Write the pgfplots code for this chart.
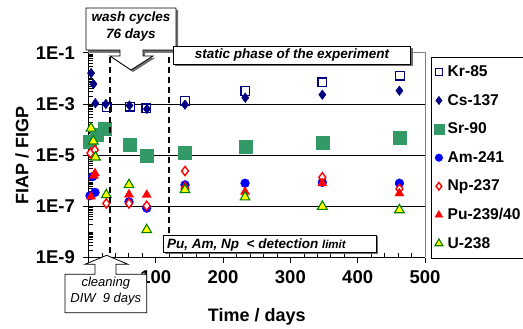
\documentclass[border=0pt]{standalone}
\usepackage{pgfplots}
\pgfplotsset{compat=1.18}
\usepackage{fontspec}
\setmainfont{Liberation Sans}

\definecolor{navyblue}{RGB}{0,0,128}
\definecolor{srgreen}{RGB}{51,153,102}
\definecolor{amblue}{RGB}{0,0,255}
\definecolor{nured}{RGB}{255,0,0}
\definecolor{uyellow}{RGB}{255,255,0}
\definecolor{ugreen}{RGB}{0,128,0}
\definecolor{framegray}{RGB}{128,128,128}
\definecolor{shadowgray}{RGB}{110,110,110}

\newcommand\tickfont{\fontsize{18.5bp}{20bp}\selectfont\bfseries}
\newcommand\labelfont{\fontsize{18bp}{20bp}\selectfont\bfseries}
\newcommand\legfont{\fontsize{15.6bp}{17bp}\selectfont\bfseries}
\newcommand\notefont{\fontsize{13.5bp}{15bp}\selectfont\bfseries\itshape}
\newcommand\smallnote{\fontsize{13bp}{15bp}\selectfont\itshape}

% legend symbol drawn with its own mark size
\pgfplotsset{legmark/.style={legend image code/.code={%
  \draw[mark repeat=2,mark phase=2,##1,mark size=#1]
    plot coordinates {(0bp,0bp) (4bp,0bp) (8bp,0bp)};}}}

% FIAP/FIGP ratios versus time (days)
\pgfplotstableread{
t y
27 7.5e-4
62 7.8e-4
86 6.8e-4
143.5 1.3e-3
233 3.2e-3
347.5 7.0e-3
463 1.27e-2
}\krdata
\pgfplotstableread{
t y
4 1.6e-2
7.6 6.0e-3
10.3 1.07e-3
26 1.0e-3
61 8.7e-4
87 6.4e-4
143.5 9.4e-4
233 1.76e-3
347.5 2.3e-3
462 3.3e-3
}\csdata
\pgfplotstableread{
t y
2.4 3.4e-5
12.3 6.2e-5
24 1.1e-4
61 2.5e-5
87 9.3e-6
143.5 1.3e-5
233 2.1e-5
347.5 3.2e-5
463 4.6e-5
}\srdata
\pgfplotstableread{
t y
2.4 2.6e-7
6.4 1.45e-6
9.8 3.5e-7
60.3 1.5e-7
86.6 8.5e-8
143.5 6.9e-7
232.7 8.0e-7
347.5 8.7e-7
462 8.0e-7
}\amdata
\pgfplotstableread{
t y
3 1.2e-5
9.5 1.6e-5
26.6 1.3e-7
60.3 1.3e-7
86.6 1.05e-7
143.5 2.4e-6
347.5 1.37e-6
462 4.8e-7
}\npdata
\pgfplotstableread{
t y
3.9 2.4e-7
8.3 1.55e-6
9.8 1.95e-6
60.3 2.9e-7
86.6 2.8e-7
143.5 5.9e-7
232.7 3.7e-7
347.5 8.0e-7
462 3.2e-7
}\pudata
\pgfplotstableread{
t y
3.9 1.12e-4
7.3 3.5e-5
10.5 8.3e-6
26.6 2.8e-7
60.3 6.9e-7
86.6 1.2e-8
143.5 4.4e-7
232.7 2.3e-7
347.5 9.8e-8
462 7.2e-8
}\udata

\begin{document}
\begin{tikzpicture}
\useasboundingbox (0,0) rectangle (523bp,329bp);
\begin{axis}[
  at={(88.4bp,71.5bp)}, anchor=south west,
  scale only axis, width=336.6bp, height=204.7bp,
  xmin=0, xmax=500,
  ymode=log, ymin=1e-9, ymax=1e-1,
  axis lines=left,
  axis line style={-, black, line width=0.8bp},
  xtick={0,100,200,300,400,500}, minor x tick num=4,
  xticklabels={,100,200,300,400,500},
  ytick={1e-9,1e-7,1e-5,1e-3,1e-1},
  yticklabels={1E-9,1E-7,1E-5,1E-3,1E-1},
  minor ytick={2e-9,3e-9,4e-9,5e-9,6e-9,7e-9,8e-9,9e-9,
    1e-8,2e-8,3e-8,4e-8,5e-8,6e-8,7e-8,8e-8,9e-8,
    2e-7,3e-7,4e-7,5e-7,6e-7,7e-7,8e-7,9e-7,
    1e-6,2e-6,3e-6,4e-6,5e-6,6e-6,7e-6,8e-6,9e-6,
    2e-5,3e-5,4e-5,5e-5,6e-5,7e-5,8e-5,9e-5,
    1e-4,2e-4,3e-4,4e-4,5e-4,6e-4,7e-4,8e-4,9e-4,
    2e-3,3e-3,4e-3,5e-3,6e-3,7e-3,8e-3,9e-3,
    1e-2,2e-2,3e-2,4e-2,5e-2,6e-2,7e-2,8e-2,9e-2},
  tick align=outside,
  major tick length=5bp, minor tick length=-5bp,
  tick style={black, line width=0.6bp},
  ymajorgrids, grid style={black, line width=0.8bp},
  ticklabel style={font=\tickfont},
  xticklabel style={yshift=-5bp},
  yticklabel style={xshift=-5bp},
  /pgf/number format/assume math mode=true,
  xlabel={Time / days},
  ylabel={FIAP / FIGP},
  label style={font=\labelfont},
  xlabel style={at={(axis description cs:0.5,-0.29)}, anchor=center},
  ylabel style={at={(axis description cs:-0.197,0.5)}, anchor=center},
  clip=false,
  legend cell align=left,
  legend style={at={(axis description cs:1.017,0.981)}, anchor=north west,
    draw=black, line width=0.8bp, font=\legfont,
    inner xsep=3bp, inner ysep=0.5bp, row sep=0bp, column sep=3bp,
    nodes={inner sep=1bp, minimum height=28.6bp}},
]
\addplot[only marks, mark=square*, mark size=4.3bp,
  mark options={draw=navyblue, fill=white, line width=1.3bp},
  legmark=3.6bp] table[x=t,y=y] {\krdata};
\addlegendentry{Kr-85}
\addplot[only marks, mark=diamond*, mark size=4.8bp,
  mark options={draw=navyblue, fill=navyblue, line width=0.4bp},
  legmark=4.2bp] table[x=t,y=y] {\csdata};
\addlegendentry{Cs-137}
\addplot[only marks, mark=square*, mark size=6.5bp,
  mark options={draw=srgreen, fill=srgreen, line width=0.4bp},
  legmark=4.8bp] table[x=t,y=y] {\srdata};
\addlegendentry{Sr-90}
\addplot[only marks, mark=*, mark size=4.4bp,
  mark options={draw=amblue, fill=amblue, line width=0.4bp},
  legmark=3.8bp] table[x=t,y=y] {\amdata};
\addlegendentry{Am-241}
\addplot[only marks, mark=diamond*, mark size=4.6bp,
  mark options={draw=nured, fill=white, line width=1.4bp},
  legmark=3.8bp] table[x=t,y=y] {\npdata};
\addlegendentry{Np-237}
\addplot[only marks, mark=triangle*, mark size=5.2bp,
  mark options={draw=nured, fill=nured, line width=0.4bp},
  legmark=4.4bp] table[x=t,y=y] {\pudata};
\addlegendentry{Pu-239/40}
\addplot[only marks, mark=triangle*, mark size=5.6bp,
  mark options={draw=ugreen, fill=uyellow, line width=1.1bp},
  legmark=4.6bp] table[x=t,y=y] {\udata};
\addlegendentry{U-238}
\end{axis}

% annotations, placed in page units measured from the top left corner
\begin{scope}[x=1bp, y=-1bp, shift={(0bp,329bp)}]
  % plot area frame (top and right)
  \draw[framegray, line width=0.8bp] (88.4,52.8) -- (425,52.8) -- (425,257.5);
  % phase boundaries
  \draw[black, line width=2.4bp, dash pattern=on 6bp off 4bp] (110,57) -- (110,262);
  \draw[black, line width=2.4bp, dash pattern=on 6bp off 4bp] (169,57) -- (169,233);

  % wash cycles callout
  \fill[shadowgray, xshift=2bp, yshift=-2bp] (86,8) -- (176,8) -- (176,50) -- (143,50) -- (143,56) -- (153,56) -- (131,70) -- (110,56) -- (120,56) -- (120,50) -- (86,50) -- cycle;
  \filldraw[fill=white, draw=black, line width=0.8bp] (86,8) -- (176,8) -- (176,50) -- (143,50) -- (143,56) -- (153,56) -- (131,70) -- (110,56) -- (120,56) -- (120,50) -- (86,50) -- cycle;
  \node[font=\notefont] at (131,18) {wash cycles};
  \node[font=\notefont] at (131,35) {76 days};

  % cleaning callout
  \filldraw[fill=white, draw=black, line width=0.8bp] (65,274.3) -- (95,274.3) -- (95,264.3) -- (85,264.3) -- (106.7,255.3) -- (128,264.3) -- (116,264.3) -- (116,274.3) -- (146.7,274.3) -- (146.7,312.7) -- (65,312.7) -- cycle;
  \node[font=\smallnote] at (105.8,283.3) {cleaning};
  \node[font=\smallnote] at (105.8,298.8) {DIW\ \ 9 days};

  % static phase label
  \fill[shadowgray, xshift=2bp, yshift=-2bp] (173.3,46) rectangle (410.7,64);
  \filldraw[fill=white, draw=black, line width=0.8bp] (173.3,46) rectangle (410.7,64);
  \node[font=\notefont] at (292,55) {static phase of the experiment};

  % detection limit label
  \fill[shadowgray, xshift=1.5bp, yshift=-1.5bp] (163.3,235) rectangle (376.7,252.3);
  \filldraw[fill=white, draw=black, line width=0.8bp] (163.3,235) rectangle (376.7,252.3);
  \node[font=\notefont, anchor=base west, inner sep=0pt] at (167,248.5)
    {Pu, Am, Np\ \ < detection \fontsize{11.5bp}{13bp}\selectfont limit};
\end{scope}
\end{tikzpicture}
\end{document}
